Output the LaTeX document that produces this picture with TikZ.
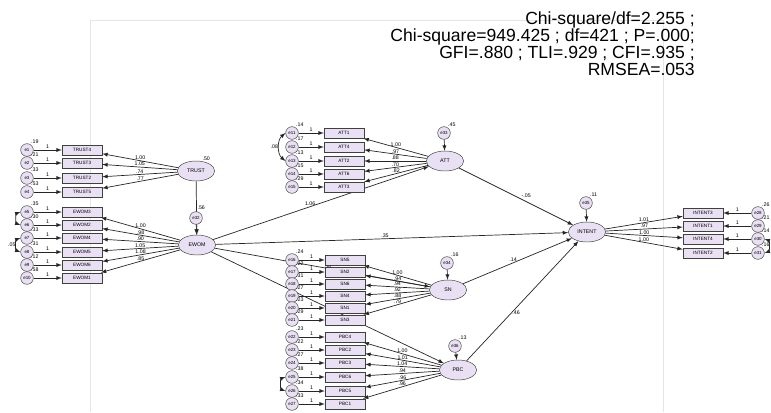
\documentclass[tikz,border=0pt]{standalone}
\usepackage{fontspec}
\setmainfont{Liberation Sans}
\usetikzlibrary{shapes.geometric, arrows}
\definecolor{lav}{RGB}{233,224,243}
\tikzstyle{latent} = [ellipse, draw=black!75, fill=lav, minimum width=1.12cm, minimum height=0.6cm, inner sep=0pt, font=\fontsize{4.5}{4.5}\selectfont]
\tikzstyle{indicator} = [rectangle, draw=black!75, fill=lav, minimum width=1.2cm, minimum height=0.31cm, inner sep=0pt, font=\fontsize{4}{4}\selectfont]
\tikzstyle{errc} = [circle, draw=black!75, fill=lav, minimum size=0.38cm, inner sep=0pt, font=\fontsize{3.8}{3.8}\selectfont]
\tikzstyle{est} = [inner sep=0.6pt, font=\fontsize{4.5}{4.5}\selectfont]
\tikzstyle{fitbox} = [align=right, anchor=north east, inner sep=0pt, font=\fontsize{15}{14.5}\selectfont]
\tikzstyle{arrow} = [semithick, draw=black!85, ->, >=latex]
\tikzstyle{cov} = [semithick, draw=black!85, <->, >=latex]

\begin{document}
\begin{tikzpicture}[x=0.03cm, y=-0.03cm]
\useasboundingbox (0,0) rectangle (771,412);
\draw [black!10] (90,412) -- (90,20) -- (663,20) -- (663,412);

\node (fit) [fitbox] at (695,12) {Chi-square/df=2.255 ;\\Chi-square=949.425 ; df=421 ; P=.000;\\GFI=.880 ; TLI=.929 ; CFI=.935 ;\\RMSEA=.053};

%% latent variables
\node (TRUST) [latent, label={[est]60:.50}] at (196,171) {TRUST};
\node (EWOM) [latent] at (197,245) {EWOM};
\node (ATT) [latent] at (445,161) {ATT};
\node (SN) [latent] at (448,290) {SN};
\node (PBC) [latent] at (458,370) {PBC};
\node (INTENT) [latent] at (587,232) {INTENT};

%% structural paths
\draw [arrow] (TRUST) -- node[est, right]{.56} (EWOM);
\draw [arrow] (EWOM) -- node[est, above, pos=0.45]{1.06} (ATT);
\draw [arrow] (EWOM) -- node[est, above, pos=0.48]{.35} (INTENT);
\draw [arrow] (EWOM) -- node[est, above, pos=0.53]{.37} (SN);
\draw [arrow] (EWOM) -- node[est, above, pos=0.51]{.35} (PBC);
\draw [arrow] (ATT) -- node[est, above right, pos=0.54]{-.05} (INTENT);
\draw [arrow] (SN) -- node[est, above, pos=0.46]{.14} (INTENT);
\draw [arrow] (PBC) -- node[est, right, pos=0.4]{.46} (INTENT);

%% residuals of the latent variables
\node (e32) [errc] at (196,218) {e32};
\node (e33) [errc, label={[est]60:.45}] at (444,133) {e33};
\node (e34) [errc, label={[est]60:.16}] at (447,263) {e34};
\node (e36) [errc, label={[est]60:.13}] at (455,346) {e36};
\node (e35) [errc, label={[est]60:.11}] at (586,203) {e35};
\draw [arrow] (e32) -- (EWOM);
\draw [arrow] (e33) -- (ATT);
\draw [arrow] (e34) -- (SN);
\draw [arrow] (e36) -- (PBC);
\draw [arrow] (e35) -- (INTENT);

%% measurement models
\foreach \ind/\y/\lam/\var/\err in {TRUST4/150/1.00/.19/e1, TRUST3/163/1.05/.21/e2, TRUST2/178/.74/.33/e3, TRUST5/192/.77/.53/e4}
{
  \node (e\ind) [errc, label={[est]60:\var}] at (27,\y) {\err};
  \node (\ind) [indicator] at (82,\y) {\ind};
  \draw [arrow] (e\ind) -- node[est, above]{1} (\ind);
  \draw [arrow] (TRUST) -- node[est, above]{\lam} (\ind);
}
\foreach \ind/\y/\lam/\var/\err in {EWOM3/212/1.00/.35/e5, EWOM2/225/.98/.30/e6, EWOM4/238/.90/.33/e7, EWOM5/252/1.05/.31/e8, EWOM6/265/1.08/.12/e9, EWOM1/278/.85/.58/e10}
{
  \node (e\ind) [errc, label={[est]60:\var}] at (27,\y) {\err};
  \node (\ind) [indicator] at (82,\y) {\ind};
  \draw [arrow] (e\ind) -- node[est, above]{1} (\ind);
  \draw [arrow] (EWOM) -- node[est, above]{\lam} (\ind);
}
\foreach \ind/\y/\lam/\var/\err in {ATT1/133/1.00/.14/e11, ATT4/147/.97/.17/e12, ATT2/161/.88/.13/e13, ATT6/174/.70/.15/e14, ATT3/187/.82/.29/e15}
{
  \node (e\ind) [errc, label={[est]60:\var}] at (292,\y) {\err};
  \node (\ind) [indicator] at (344,\y) {\ind};
  \draw [arrow] (e\ind) -- node[est, above]{1} (\ind);
  \draw [arrow] (ATT) -- node[est, above]{\lam} (\ind);
}
\foreach \ind/\y/\lam/\var/\err in {SN5/260/1.00/.24/e16, SN2/272/.94/.22/e17, SN6/284/.94/.31/e18, SN4/296/.92/.27/e19, SN1/308/.88/.23/e20, SN3/320/.79/.29/e21}
{
  \node (e\ind) [errc, label={[est]60:\var}] at (292,\y) {\err};
  \node (\ind) [indicator] at (345,\y) {\ind};
  \draw [arrow] (e\ind) -- node[est, above]{1} (\ind);
  \draw [arrow] (SN) -- node[est, above]{\lam} (\ind);
}
\foreach \ind/\y/\lam/\var/\err in {PBC4/337/1.00/.23/e22, PBC2/350/1.01/.22/e23, PBC3/363/1.04/.27/e24, PBC6/377/.94/.38/e25, PBC5/391/.96/.34/e26, PBC1/404/.96/.33/e27}
{
  \node (e\ind) [errc, label={[est]60:\var}] at (292,\y) {\err};
  \node (\ind) [indicator] at (345,\y) {\ind};
  \draw [arrow] (e\ind) -- node[est, above]{1} (\ind);
  \draw [arrow] (PBC) -- node[est, above]{\lam} (\ind);
}
\foreach \ind/\y/\lam/\var/\err in {INTENT3/213/1.01/.26/e28, INTENT1/226/.97/.21/e29, INTENT4/239/1.00/.14/e30, INTENT2/253/1.00/.16/e31}
{
  \node (e\ind) [errc, label={[est]60:\var}] at (758,\y) {\err};
  \node (\ind) [indicator] at (703,\y) {\ind};
  \draw [arrow] (e\ind) -- node[est, above]{1} (\ind);
  \draw [arrow] (INTENT) -- node[est, above]{\lam} (\ind);
}

%% covariances
\draw [cov] (eEWOM3.west) to[bend right=70] (eEWOM2.west);
\draw [cov] (eEWOM4.west) to[bend right=70] node[est, left]{.05} (eEWOM5.west);
\draw [cov] (eATT1.west) to[bend right=50] node[est, left]{.08} (eATT2.west);
\draw [cov] (ePBC6.west) to[bend right=70] (ePBC5.west);
\draw [cov] (eINTENT4.east) to[bend left=70] (eINTENT2.east);

\end{tikzpicture}
\end{document}
